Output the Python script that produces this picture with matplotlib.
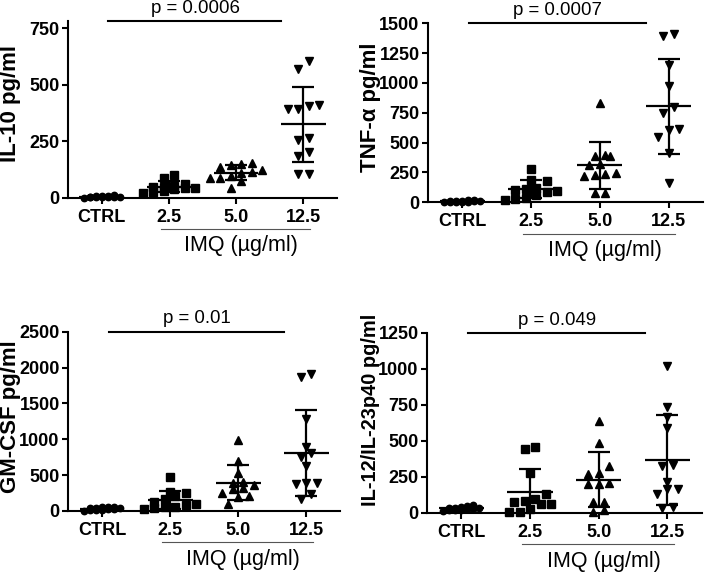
import numpy as np
import matplotlib
matplotlib.use('Agg')
import matplotlib.pyplot as plt

plt.rcParams['font.family'] = ['Liberation Sans', 'DejaVu Sans']

grupos = ['CTRL', '2.5', '5.0', '12.5']

il10_ctrl = [2, 3, 4, 5, 6, 8, 3, 5, 7, 10, 12, 4]
il10_25 = [102, 90, 60, 55, 50, 48, 45, 42, 38, 30, 25, 20]
il10_50 = [154, 149, 146, 139, 125, 115, 110, 95, 90, 87, 77, 46]
il10_125 = [605, 571, 413, 407, 394, 394, 265, 257, 201, 186, 105, 105]

tnf_ctrl = [5, 8, 10, 12, 15, 3, 6, 9, 20, 4, 7, 2]
tnf_25 = [277, 187, 180, 120, 110, 105, 95, 90, 60, 40, 30, 20]
tnf_50 = [830, 396, 391, 388, 321, 313, 243, 237, 229, 220, 80, 80]
tnf_125 = [1411, 1394, 1151, 975, 801, 751, 612, 606, 550, 416, 164]

gmcsf_ctrl = [10, 20, 30, 40, 50, 60, 15, 25, 35, 45, 5, 55]
gmcsf_25 = [470, 265, 250, 210, 160, 130, 100, 80, 60, 50, 40, 30]
gmcsf_50 = [990, 702, 525, 409, 386, 362, 316, 302, 247, 209, 200, 98]
gmcsf_125 = [1910, 1864, 1278, 897, 813, 757, 627, 395, 386, 376, 237, 163]

il12_ctrl = [15, 20, 25, 30, 35, 40, 45, 50, 18, 22, 28, 33]
il12_25 = [458, 440, 278, 128, 95, 83, 72, 60, 60, 24, 5, 5]
il12_50 = [639, 482, 326, 278, 269, 204, 197, 197, 72, 72, 19, 7]
il12_125 = [1019, 732, 667, 586, 331, 324, 215, 162, 162, 130, 37, 30]

paineis = [
    {'dados': [il10_ctrl, il10_25, il10_50, il10_125], 'ylabel': 'IL-10 pg/ml',
     'ymax': 780, 'ticks': [0, 250, 500, 750], 'p': 'p = 0.0006', 'ysize': 16,
     'pos': [0.0965, 0.6551, 0.3816, 0.3075], 'ly': 0.533},
    {'dados': [tnf_ctrl, tnf_25, tnf_50, tnf_125], 'ylabel': 'TNF-α pg/ml',
     'ymax': 1500, 'ticks': [0, 250, 500, 750, 1000, 1250, 1500], 'p': 'p = 0.0007', 'ysize': 16,
     'pos': [0.607, 0.6476, 0.390, 0.3118], 'ly': 0.533},
    {'dados': [gmcsf_ctrl, gmcsf_25, gmcsf_50, gmcsf_125], 'ylabel': 'GM-CSF pg/ml',
     'ymax': 2500, 'ticks': [0, 500, 1000, 1500, 2000, 2500], 'p': 'p = 0.01', 'ysize': 16,
     'pos': [0.0965, 0.1098, 0.386, 0.3124], 'ly': 0.526},
    {'dados': [il12_ctrl, il12_25, il12_50, il12_125], 'ylabel': 'IL-12/IL-23p40 pg/ml',
     'ymax': 1250, 'ticks': [0, 250, 500, 750, 1000, 1250], 'p': 'p = 0.049', 'ysize': 14.4,
     'pos': [0.6057, 0.1068, 0.3896, 0.3136], 'ly': 0.57},
]

marcadores = ['o', 's', '^', 'v']
tamanhos = [4.6, 5.3, 6.2, 6.2]

W, H = 705, 574


def espalhar(valores, px_y, px_x, passo, altura, maxcol):
    # agrupa pontos proximos em linhas e centra cada linha (estilo GraphPad)
    ordem = np.argsort(valores)
    offs = np.zeros(len(valores))
    linha = []
    inicio = None
    def fecha(linha):
        n = len(linha)
        for k, idx in enumerate(linha):
            offs[idx] = (k - (n - 1) / 2) * passo / px_x
    for idx in ordem:
        y = valores[idx] * px_y
        if linha and (y - inicio < altura) and len(linha) < maxcol:
            linha.append(idx)
        else:
            if linha:
                fecha(linha)
            linha = [idx]
            inicio = y
    if linha:
        fecha(linha)
    return offs


fig = plt.figure(figsize=(7.05, 5.74), dpi=100)

for p in paineis:
    ax = fig.add_axes(p['pos'])
    px_x = p['pos'][2] * W / 4.0
    px_y = p['pos'][3] * H / p['ymax']
    for i, vals in enumerate(p['dados']):
        vals = np.array(vals, dtype=float)
        if i == 0:
            offs = espalhar(vals, px_y, px_x, 6, 9, 7)
        else:
            offs = espalhar(vals, px_y, px_x, 10.5, 9, 6)
        ax.plot(i + offs, vals, linestyle='none', marker=marcadores[i],
                markersize=tamanhos[i], color='black', clip_on=False, zorder=3)
        m = vals.mean()
        sd = vals.std(ddof=1)
        ax.hlines(m, i - 0.33, i + 0.33, color='black', linewidth=1.6, zorder=4)
        ax.errorbar(i, m, yerr=sd, color='black', linewidth=1.6, capsize=8,
                    capthick=1.6, zorder=4)
    ax.set_xlim(-0.5, 3.5)
    ax.set_ylim(0, p['ymax'])
    ax.set_yticks(p['ticks'])
    ax.set_xticks(range(4))
    ax.set_xticklabels(grupos)
    for lab in ax.get_xticklabels() + ax.get_yticklabels():
        lab.set_fontweight('bold')
        lab.set_fontsize(13)
    ax.tick_params(width=1.5, length=4, pad=2)
    ax.tick_params(axis='x', pad=4)
    for s in ['top', 'right']:
        ax.spines[s].set_visible(False)
    for s in ['left', 'bottom']:
        ax.spines[s].set_linewidth(1.5)
    ax.set_ylabel(p['ylabel'], fontsize=p['ysize'], fontweight='bold')
    ax.yaxis.set_label_coords(-0.175 * 0.3816 / p['pos'][2], p['ly'])

    # linha de significancia
    ytop = p['ymax']
    ax.plot([0.1, 2.67], [ytop, ytop], color='black', linewidth=1.5, clip_on=False)
    ax.annotate(p['p'], xy=(1.39, ytop), xytext=(0, 3), textcoords='offset points',
                ha='center', va='bottom', fontsize=13.4)

    # rotulo IMQ
    tr = ax.get_xaxis_transform()
    ax.plot([0.88, 3.1], [-0.175, -0.175], transform=tr, color='#555555',
            linewidth=0.8, clip_on=False)
    ax.text(2.07, -0.27, 'IMQ (µg/ml)', transform=tr, ha='center', va='center',
            fontsize=15.5)

fig.savefig('out.png', dpi=100)
